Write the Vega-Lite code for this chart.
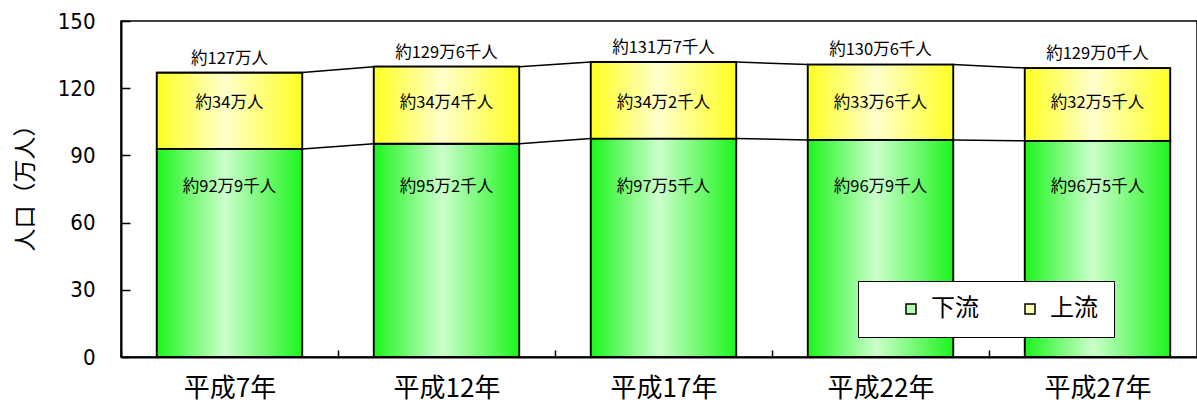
{
  "$schema": "https://vega.github.io/schema/vega-lite/v6.json",
  "width": 1076,
  "height": 336,
  "autosize": {"type": "none"},
  "padding": {"left": 121, "top": 21, "right": 0, "bottom": 46},
  "background": "white",
  "config": {"view": {"stroke": "black", "strokeWidth": 1.5}, "font": "Noto Sans CJK JP"},
  "data": {"values": [
    {"year": "平成7年", "下流": 92.9, "上流": 34.0, "total": 127.0, "lowerLabel": "約92万9千人", "upperLabel": "約34万人", "totalLabel": "約127万人"},
    {"year": "平成12年", "下流": 95.2, "上流": 34.4, "total": 129.6, "lowerLabel": "約95万2千人", "upperLabel": "約34万4千人", "totalLabel": "約129万6千人"},
    {"year": "平成17年", "下流": 97.5, "上流": 34.2, "total": 131.7, "lowerLabel": "約97万5千人", "upperLabel": "約34万2千人", "totalLabel": "約131万7千人"},
    {"year": "平成22年", "下流": 96.9, "上流": 33.6, "total": 130.6, "lowerLabel": "約96万9千人", "upperLabel": "約33万6千人", "totalLabel": "約130万6千人"},
    {"year": "平成27年", "下流": 96.5, "上流": 32.5, "total": 129.0, "lowerLabel": "約96万5千人", "upperLabel": "約32万5千人", "totalLabel": "約129万0千人"}
  ]},
  "encoding": {
    "x": {
      "field": "year", "type": "nominal", "title": null,
      "scale": {"domain": ["平成7年", "平成12年", "平成17年", "平成22年", "平成27年"], "range": [0, 1085], "paddingInner": 0.33, "paddingOuter": 0.165},
      "axis": {"labelAngle": 0, "labelFontSize": 26, "labelFont": "Noto Sans CJK JP", "labelColor": "black", "labelPadding": 25, "labelBaseline": "top", "tickSize": -7, "tickOffset": -108.5, "labelOffset": 108.5, "tickColor": "black", "tickWidth": 1.5, "domainColor": "black", "domainWidth": 2}
    }
  },
  "layer": [
    {
      "transform": [{"fold": ["下流", "上流"], "as": ["series", "value"]}],
      "mark": {"type": "bar", "stroke": "black", "strokeWidth": 1.8},
      "encoding": {
        "y": {"field": "value", "type": "quantitative", "stack": "zero", "title": "人口（万人）",
          "scale": {"domain": [0, 150], "nice": false},
          "axis": {"values": [0, 30, 60, 90, 120, 150], "grid": false, "tickSize": -9, "tickColor": "black", "tickWidth": 1.5, "domainColor": "black", "domainWidth": 2, "labelFontSize": 22, "labelFont": "DejaVu Sans Condensed, Liberation Sans, sans-serif", "labelColor": "black", "labelPadding": 35, "titleFontSize": 23, "titleFont": "Noto Sans CJK JP", "titleFontWeight": "normal", "titleColor": "black", "titlePadding": 20, "titleY": 161}},
        "fill": {"field": "series", "type": "nominal",
          "scale": {"domain": ["下流", "上流"], "range": ["#b4ffb4", "#ffffb0"]},
          "legend": {"title": null, "orient": "none", "legendX": 737, "legendY": 260, "direction": "horizontal", "strokeColor": "black", "fillColor": "white", "padding": 16, "symbolType": "square", "symbolSize": 100, "symbolStrokeColor": "black", "symbolStrokeWidth": 1.5, "symbolOffset": 25, "labelFontSize": 24, "labelFont": "Noto Sans CJK JP", "labelColor": "black", "labelOffset": 8, "columnPadding": 14}},
        "order": {"field": "series", "sort": "descending"}
      }
    },
    {
      "transform": [
        {"fold": ["下流", "上流"], "as": ["series", "value"]},
        {"stack": "value", "groupby": ["year"], "sort": [{"field": "series", "order": "descending"}], "as": ["v0", "v1"]},
        {"filter": "datum.series === '下流'"}
      ],
      "mark": {"type": "bar", "stroke": "black", "strokeWidth": 1.8,
        "fill": {"gradient": "linear", "x1": 0, "y1": 0, "x2": 1, "y2": 0, "stops": [{"offset": 0, "color": "#1cf51c"}, {"offset": 0.47, "color": "#ccffcc"}, {"offset": 1, "color": "#1cf51c"}]}},
      "encoding": {"y": {"field": "v0", "type": "quantitative", "title": "人口（万人）"}, "y2": {"field": "v1"}}
    },
    {
      "transform": [
        {"fold": ["下流", "上流"], "as": ["series", "value"]},
        {"stack": "value", "groupby": ["year"], "sort": [{"field": "series", "order": "descending"}], "as": ["v0", "v1"]},
        {"filter": "datum.series === '上流'"}
      ],
      "mark": {"type": "bar", "stroke": "black", "strokeWidth": 1.8,
        "fill": {"gradient": "linear", "x1": 0, "y1": 0, "x2": 1, "y2": 0, "stops": [{"offset": 0, "color": "#ffff22"}, {"offset": 0.47, "color": "#ffffcc"}, {"offset": 1, "color": "#ffff22"}]}},
      "encoding": {"y": {"field": "v0", "type": "quantitative", "title": "人口（万人）"}, "y2": {"field": "v1"}}
    },
    {
      "transform": [
        {"window": [{"op": "lead", "field": "year", "as": "nextYear"}, {"op": "lead", "field": "total", "as": "nextTotal"}, {"op": "lead", "field": "下流", "as": "nextLower"}]},
        {"filter": "datum.nextYear != null"}
      ],
      "layer": [
        {"mark": {"type": "rule", "strokeWidth": 1.5, "color": "black"},
         "encoding": {"x": {"field": "year", "type": "nominal", "bandPosition": 1}, "x2": {"field": "nextYear", "bandPosition": 0}, "y": {"field": "total", "type": "quantitative", "title": "人口（万人）"}, "y2": {"field": "nextTotal"}}},
        {"mark": {"type": "rule", "strokeWidth": 1.5, "color": "black"},
         "encoding": {"x": {"field": "year", "type": "nominal", "bandPosition": 1}, "x2": {"field": "nextYear", "bandPosition": 0}, "y": {"field": "下流", "type": "quantitative", "title": "人口（万人）"}, "y2": {"field": "nextLower"}}}
      ]
    },
    {
      "mark": {"type": "text", "fontSize": 16.5, "font": "Noto Sans CJK JP", "color": "black"},
      "encoding": {"text": {"field": "lowerLabel"}, "y": {"datum": 76, "type": "quantitative", "title": "人口（万人）"}}
    },
    {
      "mark": {"type": "text", "fontSize": 16.5, "font": "Noto Sans CJK JP", "color": "black"},
      "encoding": {"text": {"field": "upperLabel"}, "y": {"datum": 113.5, "type": "quantitative", "title": "人口（万人）"}}
    },
    {
      "mark": {"type": "text", "fontSize": 16.5, "font": "Noto Sans CJK JP", "color": "black", "dy": -14},
      "encoding": {"text": {"field": "totalLabel"}, "y": {"field": "total", "type": "quantitative", "title": "人口（万人）"}}
    }
  ]
}
